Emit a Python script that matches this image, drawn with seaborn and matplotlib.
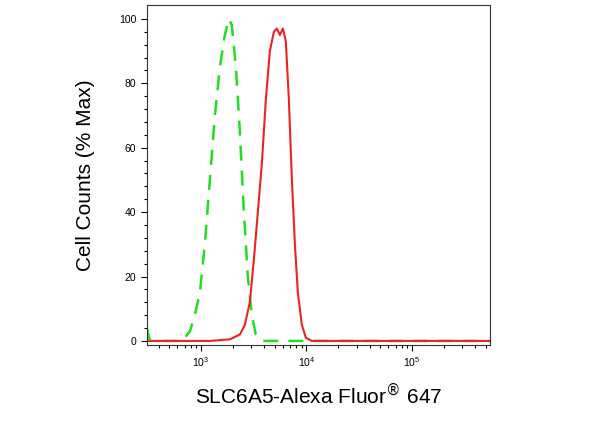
import matplotlib
matplotlib.use("Agg")
import matplotlib.pyplot as plt
import seaborn as sns
import numpy as np
from matplotlib.ticker import FixedLocator, LogLocator, NullFormatter

sns.set_style("ticks")
plt.rcParams['font.family'] = ['Liberation Sans', 'DejaVu Sans']

iso_x = [308, 329, 408, 567, 705, 787, 877, 979, 1091, 1217, 1358, 1514, 1688, 1842, 1966,
         2146, 2342, 2557, 2788, 3041, 3317, 3784, 5610, 548000]
iso_y = [4, 0, 0, 0, 1, 3, 8, 15, 30, 50, 70, 85, 95, 100, 98,
         85, 65, 40, 20, 8, 2, 0, 0, 0]
ab_x = [308, 1217, 1884, 2342, 2612, 2911, 3175, 3467, 3784, 4130, 4508, 4920, 5248, 5610,
        5985, 6390, 6823, 7290, 7785, 8303, 9057, 9885, 11270, 548000]
ab_y = [0, 0, 0.5, 2, 5, 12, 25, 40, 55, 75, 90, 96, 97, 95,
        97, 93, 75, 50, 30, 15, 5, 1, 0, 0]
y_ticks = [0, 20, 40, 60, 80, 100]

fig = plt.figure(figsize=(6.07, 4.21), dpi=100)
ax = fig.add_axes([0.242, 0.181, 0.565, 0.807])
sns.lineplot(x=iso_x, y=iso_y, ax=ax, color="#22dd22", lw=1.8, linestyle=(0, (6, 4)), sort=False)
sns.lineplot(x=ab_x, y=ab_y, ax=ax, color="#ee2222", lw=1.5, sort=False)
ax.set_xscale("log")
ax.set_xlim(308, 548000)
ax.set_ylim(-1.2, 104.3)
ax.set_yticks(y_ticks)
ax.yaxis.set_minor_locator(FixedLocator([v for v in range(0, 101, 4) if v % 20]))
ax.xaxis.set_major_locator(FixedLocator([1e3, 1e4, 1e5]))
ax.xaxis.set_minor_locator(LogLocator(base=10, subs=np.arange(2, 10)))
ax.xaxis.set_minor_formatter(NullFormatter())
ax.tick_params(labelsize=7.5, length=4, width=0.8, direction="out", colors="black")
ax.tick_params(which="minor", length=2.5, width=0.8, colors="black")
for s in ax.spines.values():
    s.set_visible(True)
    s.set_linewidth(0.8)
    s.set_color("#333333")
ax.set_xlabel("SLC6A5-Alexa Fluor$^{\\circledR}$ 647", fontsize=15, color="black", labelpad=9)
ax.set_ylabel("Cell Counts (% Max)", fontsize=15, color="black", labelpad=17)
fig.savefig("out.png", dpi=100)
